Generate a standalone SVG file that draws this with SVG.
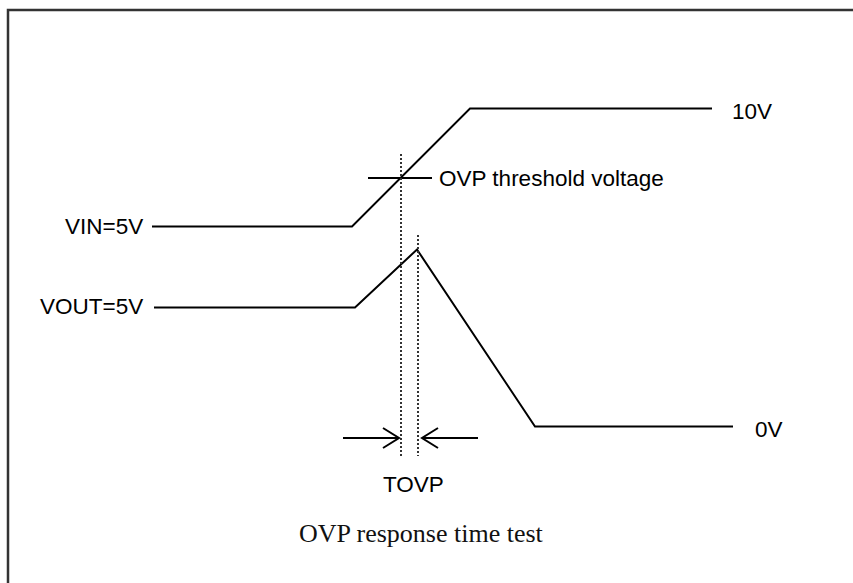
<svg xmlns="http://www.w3.org/2000/svg" width="853" height="583" viewBox="0 0 853 583">
<style>
.w{fill:none;stroke:#000;stroke-width:2}
.d{fill:none;stroke:#333;stroke-width:2;stroke-dasharray:2 2}
.t{font-family:"Liberation Sans",Arial,sans-serif;font-size:22.5px;fill:#000}
.s{font-family:"Liberation Serif","Times New Roman",serif;font-size:26px;fill:#111}
</style>
<rect x="0" y="0" width="853" height="583" fill="#fff"/>
<rect id="frame" x="8" y="10" width="900" height="700" fill="none" stroke="#333" stroke-width="2.5"/>
<g id="connectors">
<polyline id="vin" class="w" points="152,226.5 352,226.5 470,108.5 712,108.5"/>
<polyline id="vout" class="w" points="154,307.5 355,307.5 417,249.5 535,426.5 733,426.5"/>
<line class="w" x1="368" y1="178" x2="432" y2="178"/>
<line class="d" x1="401" y1="154" x2="401" y2="456"/>
<line class="d" x1="418" y1="235" x2="418" y2="456"/>
<g id="arrow-left" class="w">
<line x1="343" y1="438" x2="399" y2="438"/>
<polyline points="383,428 399,438 383,448"/>
</g>
<g id="arrow-right" class="w">
<line x1="478" y1="438" x2="422" y2="438"/>
<polyline points="438,428 422,438 438,448"/>
</g>
</g>
<g id="labels">
<text class="t" x="65" y="234">VIN=5V</text>
<text class="t" x="40" y="314">VOUT=5V</text>
<text class="t" x="732" y="119">10V</text>
<text class="t" x="439" y="186">OVP threshold voltage</text>
<text class="t" x="755" y="437">0V</text>
<text class="t" x="383" y="492">TOVP</text>
<text class="s" x="299" y="542">OVP response time test</text>
</g>
</svg>
